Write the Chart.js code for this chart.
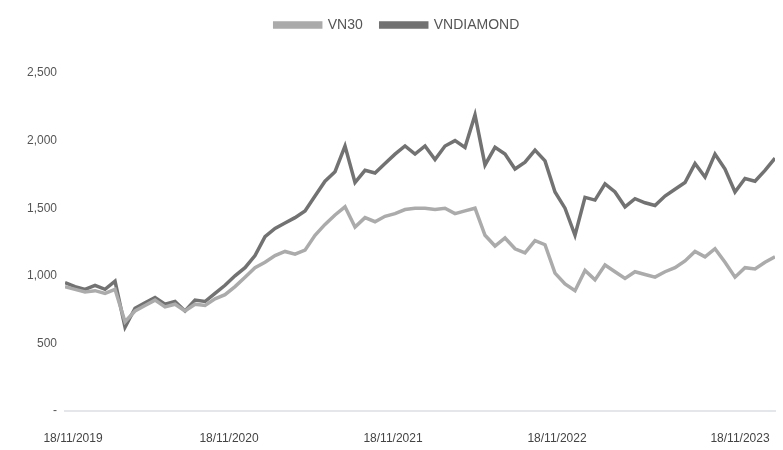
<!DOCTYPE html>
<html>
<head>
<meta charset="utf-8">
<script src="https://cdn.jsdelivr.net/npm/chart.js@4.4.0/dist/chart.umd.min.js"></script>
<style>
  html, body { margin: 0; padding: 0; background: #ffffff; }
  #wrap { width: 783px; height: 450px; }
</style>
</head>
<body>
<div id="wrap"><canvas id="c" width="783" height="450"></canvas></div>
<script>
// Sample points (roughly every 10 trading days from 18/11/2019 to 18/11/2023)
const seriesNames = ['VN30', 'VNDIAMOND'];

const vn30 = [
  920, 900, 880, 890, 870, 900, 660, 740, 780, 820,
  770, 790, 740, 790, 780, 830, 860, 920, 990, 1060,
  1100, 1150, 1180, 1160, 1190, 1300, 1380, 1450, 1510, 1360,
  1430, 1400, 1440, 1460, 1490, 1500, 1500, 1490, 1500, 1460,
  1480, 1500, 1300, 1220, 1280, 1200, 1170, 1260, 1230, 1020,
  940, 890, 1040, 970, 1080, 1030, 980, 1030, 1010, 990,
  1030, 1060, 1110, 1180, 1140, 1200, 1100, 990, 1060, 1050,
  1100, 1140
];

const vndiamond = [
  950, 920, 900, 930, 900, 960, 620, 760, 800, 840,
  790, 810, 740, 820, 810, 870, 930, 1000, 1060, 1150,
  1290, 1350, 1390, 1430, 1480, 1590, 1700, 1770, 1960, 1690,
  1780, 1760, 1830, 1900, 1960, 1900, 1960, 1860, 1960, 2000,
  1950, 2190, 1820, 1950, 1900, 1790, 1840, 1930, 1850, 1620,
  1500, 1300, 1580, 1560, 1680, 1620, 1510, 1570, 1540, 1520,
  1590, 1640, 1690, 1830, 1730, 1900, 1790, 1620, 1720, 1700,
  1780, 1870
];

// Position (in sample steps) of each shown date label
const tickPos = [0.8, 16.4, 32.8, 49.2, 67.5];
const tickText = ['18/11/2019', '18/11/2020', '18/11/2021', '18/11/2022', '18/11/2023'];

const yTicks = [0, 500, 1000, 1500, 2000, 2500];

const fontFamily = '"Liberation Sans", Arial, sans-serif';

const toPoints = arr => arr.map((v, i) => ({ x: i, y: v }));

const legendSpace = {
  id: 'legendSpace',
  beforeInit(chart) {
    const origFit = chart.legend.fit;
    chart.legend.fit = function () {
      origFit.call(this);
      this.height += 31;
    };
  }
};

new Chart(document.getElementById('c'), {
  type: 'line',
  data: {
    datasets: [
      {
        label: seriesNames[0],
        data: toPoints(vn30),
        borderColor: '#ababab',
        backgroundColor: '#ababab',
        borderWidth: 3.5,
        pointRadius: 0,
        tension: 0
      },
      {
        label: seriesNames[1],
        data: toPoints(vndiamond),
        borderColor: '#727272',
        backgroundColor: '#727272',
        borderWidth: 3.5,
        pointRadius: 0,
        tension: 0
      }
    ]
  },
  plugins: [legendSpace],
  options: {
    responsive: false,
    animation: false,
    layout: { padding: { left: 19, right: 8, top: 0, bottom: 0 } },
    plugins: {
      legend: {
        position: 'top',
        align: 'center',
        labels: {
          boxWidth: 46,
          boxHeight: 4,
          padding: 18,
          color: '#555555',
          font: { family: fontFamily, size: 14 }
        }
      },
      tooltip: { enabled: false }
    },
    scales: {
      x: {
        type: 'linear',
        min: 0,
        max: vn30.length - 1,
        afterBuildTicks: function (axis) {
          axis.ticks = tickPos.map(v => ({ value: v }));
        },
        afterFit: function (scale) { scale.height = 39; scale.paddingRight = 0; },
        grid: { display: false, drawTicks: false },
        border: { display: true, color: '#e3e6ea', width: 2 },
        ticks: {
          autoSkip: false,
          maxRotation: 0,
          padding: 20,
          color: '#444444',
          font: { family: fontFamily, size: 12 },
          callback: function (v) {
            const k = tickPos.indexOf(v);
            return k >= 0 ? tickText[k] : '';
          }
        }
      },
      y: {
        min: 0,
        max: 2500,
        afterBuildTicks: function (axis) {
          axis.ticks = yTicks.map(v => ({ value: v }));
        },
        grid: { display: false, drawTicks: false },
        border: { display: false },
        ticks: {
          padding: 8,
          color: '#555555',
          font: { family: fontFamily, size: 12 },
          callback: function (v) {
            return v === 0 ? '-' : v.toLocaleString('en-US');
          }
        }
      }
    }
  }
});
</script>
</body>
</html>
